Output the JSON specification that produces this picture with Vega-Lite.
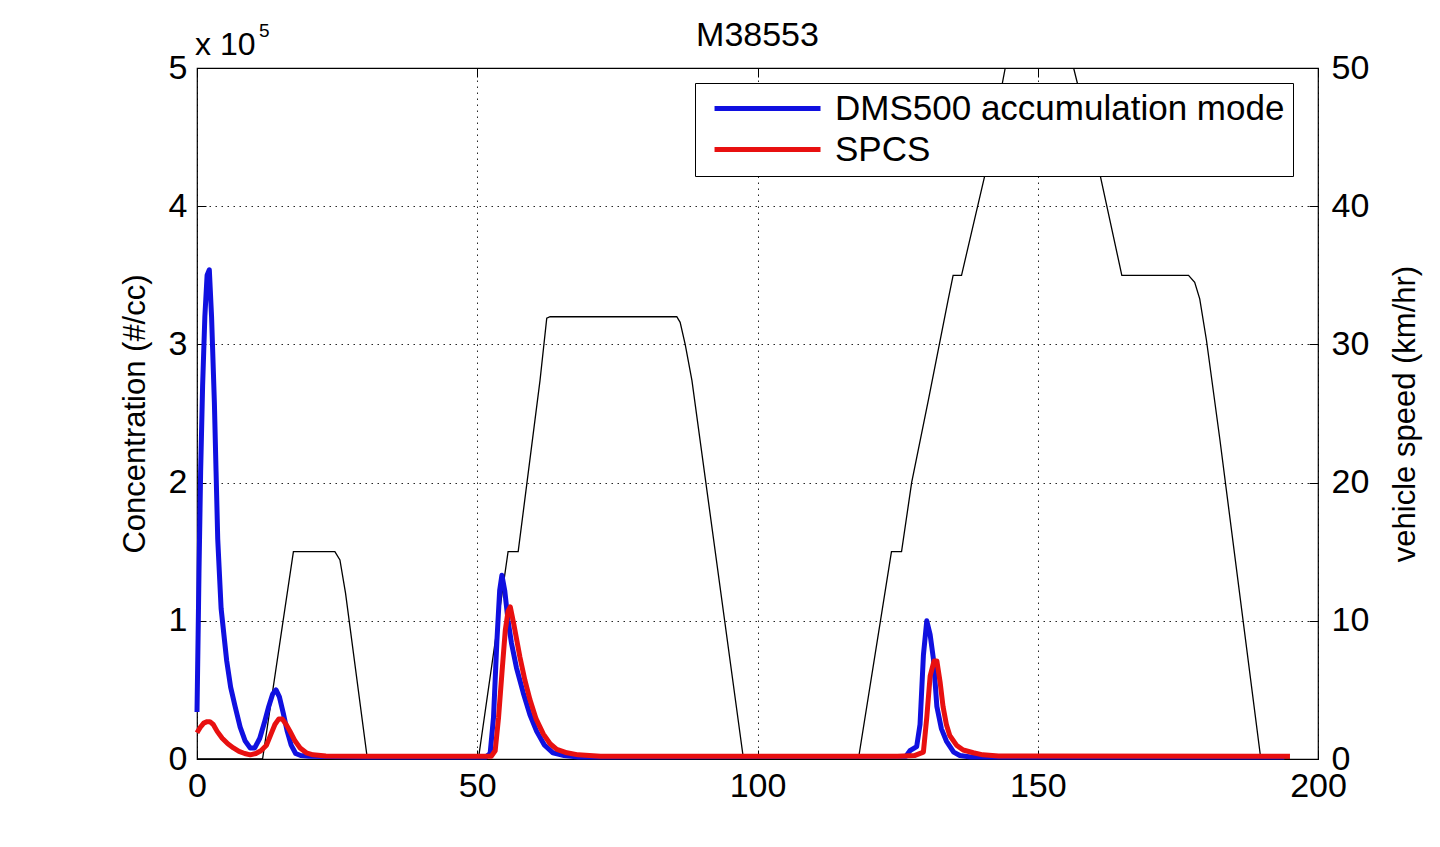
{
  "$schema": "https://vega.github.io/schema/vega-lite/v6.json",
  "autosize": {"type": "none"},
  "width": 1121,
  "height": 691,
  "padding": {"left": 197, "top": 68, "right": 122, "bottom": 88},
  "background": "#ffffff",
  "title": {"text": "M38553", "fontSize": 34, "fontWeight": "normal", "font": "Liberation Sans", "color": "#000", "anchor": "middle", "baseline": "alphabetic", "offset": -58},
  "datasets": {
    "conc": [
      {"t": 0.0, "c": 0.34, "s": "DMS500"},
      {"t": 0.2, "c": 0.9, "s": "DMS500"},
      {"t": 0.35, "c": 1.34, "s": "DMS500"},
      {"t": 0.65, "c": 2.08, "s": "DMS500"},
      {"t": 1.0, "c": 2.7, "s": "DMS500"},
      {"t": 1.4, "c": 3.2, "s": "DMS500"},
      {"t": 1.8, "c": 3.5, "s": "DMS500"},
      {"t": 2.2, "c": 3.54, "s": "DMS500"},
      {"t": 2.6, "c": 3.2, "s": "DMS500"},
      {"t": 3.1, "c": 2.58, "s": "DMS500"},
      {"t": 3.4, "c": 2.08, "s": "DMS500"},
      {"t": 3.7, "c": 1.59, "s": "DMS500"},
      {"t": 4.3, "c": 1.09, "s": "DMS500"},
      {"t": 5.3, "c": 0.71, "s": "DMS500"},
      {"t": 6.0, "c": 0.52, "s": "DMS500"},
      {"t": 6.8, "c": 0.38, "s": "DMS500"},
      {"t": 7.7, "c": 0.23, "s": "DMS500"},
      {"t": 8.6, "c": 0.13, "s": "DMS500"},
      {"t": 9.5, "c": 0.08, "s": "DMS500"},
      {"t": 10.3, "c": 0.08, "s": "DMS500"},
      {"t": 11.2, "c": 0.15, "s": "DMS500"},
      {"t": 12.0, "c": 0.26, "s": "DMS500"},
      {"t": 12.8, "c": 0.38, "s": "DMS500"},
      {"t": 13.5, "c": 0.47, "s": "DMS500"},
      {"t": 14.1, "c": 0.5, "s": "DMS500"},
      {"t": 14.7, "c": 0.45, "s": "DMS500"},
      {"t": 15.4, "c": 0.33, "s": "DMS500"},
      {"t": 16.1, "c": 0.2, "s": "DMS500"},
      {"t": 16.8, "c": 0.1, "s": "DMS500"},
      {"t": 17.6, "c": 0.04, "s": "DMS500"},
      {"t": 18.5, "c": 0.025, "s": "DMS500"},
      {"t": 20.0, "c": 0.02, "s": "DMS500"},
      {"t": 30.0, "c": 0.015, "s": "DMS500"},
      {"t": 51.5, "c": 0.015, "s": "DMS500"},
      {"t": 52.3, "c": 0.04, "s": "DMS500"},
      {"t": 52.9, "c": 0.3, "s": "DMS500"},
      {"t": 53.5, "c": 0.85, "s": "DMS500"},
      {"t": 54.0, "c": 1.22, "s": "DMS500"},
      {"t": 54.4, "c": 1.33, "s": "DMS500"},
      {"t": 54.9, "c": 1.22, "s": "DMS500"},
      {"t": 55.5, "c": 1.0, "s": "DMS500"},
      {"t": 56.1, "c": 0.84, "s": "DMS500"},
      {"t": 57.0, "c": 0.66, "s": "DMS500"},
      {"t": 58.2, "c": 0.48, "s": "DMS500"},
      {"t": 59.4, "c": 0.32, "s": "DMS500"},
      {"t": 60.6, "c": 0.2, "s": "DMS500"},
      {"t": 62.0, "c": 0.1, "s": "DMS500"},
      {"t": 63.5, "c": 0.045, "s": "DMS500"},
      {"t": 65.5, "c": 0.025, "s": "DMS500"},
      {"t": 68.0, "c": 0.015, "s": "DMS500"},
      {"t": 126.5, "c": 0.02, "s": "DMS500"},
      {"t": 127.2, "c": 0.06, "s": "DMS500"},
      {"t": 128.4, "c": 0.09, "s": "DMS500"},
      {"t": 129.0, "c": 0.25, "s": "DMS500"},
      {"t": 129.6, "c": 0.75, "s": "DMS500"},
      {"t": 130.2, "c": 1.0, "s": "DMS500"},
      {"t": 130.8, "c": 0.9, "s": "DMS500"},
      {"t": 131.4, "c": 0.72, "s": "DMS500"},
      {"t": 132.0, "c": 0.38, "s": "DMS500"},
      {"t": 132.8, "c": 0.22, "s": "DMS500"},
      {"t": 133.7, "c": 0.13, "s": "DMS500"},
      {"t": 135.0, "c": 0.05, "s": "DMS500"},
      {"t": 136.1, "c": 0.025, "s": "DMS500"},
      {"t": 138.0, "c": 0.015, "s": "DMS500"},
      {"t": 194.0, "c": 0.015, "s": "DMS500"},
      {"t": 0.0, "c": 0.19, "s": "SPCS"},
      {"t": 0.6, "c": 0.23, "s": "SPCS"},
      {"t": 1.2, "c": 0.26, "s": "SPCS"},
      {"t": 1.8, "c": 0.27, "s": "SPCS"},
      {"t": 2.3, "c": 0.27, "s": "SPCS"},
      {"t": 2.9, "c": 0.25, "s": "SPCS"},
      {"t": 3.6, "c": 0.2, "s": "SPCS"},
      {"t": 4.5, "c": 0.15, "s": "SPCS"},
      {"t": 5.5, "c": 0.11, "s": "SPCS"},
      {"t": 6.5, "c": 0.08, "s": "SPCS"},
      {"t": 7.5, "c": 0.055, "s": "SPCS"},
      {"t": 8.5, "c": 0.04, "s": "SPCS"},
      {"t": 9.5, "c": 0.03, "s": "SPCS"},
      {"t": 10.5, "c": 0.04, "s": "SPCS"},
      {"t": 11.4, "c": 0.06, "s": "SPCS"},
      {"t": 12.4, "c": 0.1, "s": "SPCS"},
      {"t": 13.2, "c": 0.18, "s": "SPCS"},
      {"t": 13.9, "c": 0.25, "s": "SPCS"},
      {"t": 14.6, "c": 0.29, "s": "SPCS"},
      {"t": 15.2, "c": 0.29, "s": "SPCS"},
      {"t": 15.9, "c": 0.25, "s": "SPCS"},
      {"t": 16.6, "c": 0.2, "s": "SPCS"},
      {"t": 17.5, "c": 0.13, "s": "SPCS"},
      {"t": 18.4, "c": 0.08, "s": "SPCS"},
      {"t": 19.5, "c": 0.045, "s": "SPCS"},
      {"t": 20.7, "c": 0.03, "s": "SPCS"},
      {"t": 23.0, "c": 0.022, "s": "SPCS"},
      {"t": 30.0, "c": 0.02, "s": "SPCS"},
      {"t": 52.5, "c": 0.02, "s": "SPCS"},
      {"t": 53.2, "c": 0.06, "s": "SPCS"},
      {"t": 53.8, "c": 0.3, "s": "SPCS"},
      {"t": 54.4, "c": 0.62, "s": "SPCS"},
      {"t": 55.0, "c": 0.93, "s": "SPCS"},
      {"t": 55.5, "c": 1.07, "s": "SPCS"},
      {"t": 55.9, "c": 1.1, "s": "SPCS"},
      {"t": 56.5, "c": 0.98, "s": "SPCS"},
      {"t": 57.6, "c": 0.74, "s": "SPCS"},
      {"t": 58.5, "c": 0.57, "s": "SPCS"},
      {"t": 59.4, "c": 0.43, "s": "SPCS"},
      {"t": 60.5, "c": 0.29, "s": "SPCS"},
      {"t": 61.8, "c": 0.18, "s": "SPCS"},
      {"t": 63.0, "c": 0.11, "s": "SPCS"},
      {"t": 64.2, "c": 0.07, "s": "SPCS"},
      {"t": 66.0, "c": 0.045, "s": "SPCS"},
      {"t": 68.0, "c": 0.03, "s": "SPCS"},
      {"t": 72.0, "c": 0.02, "s": "SPCS"},
      {"t": 125.0, "c": 0.02, "s": "SPCS"},
      {"t": 128.0, "c": 0.025, "s": "SPCS"},
      {"t": 129.6, "c": 0.05, "s": "SPCS"},
      {"t": 130.2, "c": 0.3, "s": "SPCS"},
      {"t": 130.8, "c": 0.6, "s": "SPCS"},
      {"t": 131.5, "c": 0.71, "s": "SPCS"},
      {"t": 132.0, "c": 0.71, "s": "SPCS"},
      {"t": 132.6, "c": 0.55, "s": "SPCS"},
      {"t": 133.1, "c": 0.38, "s": "SPCS"},
      {"t": 133.7, "c": 0.25, "s": "SPCS"},
      {"t": 134.3, "c": 0.17, "s": "SPCS"},
      {"t": 135.5, "c": 0.1, "s": "SPCS"},
      {"t": 136.7, "c": 0.065, "s": "SPCS"},
      {"t": 138.5, "c": 0.045, "s": "SPCS"},
      {"t": 140.2, "c": 0.03, "s": "SPCS"},
      {"t": 143.0, "c": 0.022, "s": "SPCS"},
      {"t": 195.0, "c": 0.02, "s": "SPCS"}
    ],
    "speed": [
      {"t": 0, "v": 0},
      {"t": 11.7, "v": 0},
      {"t": 15.4, "v": 10.1},
      {"t": 17.2, "v": 15},
      {"t": 24.6, "v": 15},
      {"t": 25.5, "v": 14.4},
      {"t": 26.5, "v": 12},
      {"t": 30.4, "v": 0},
      {"t": 50.2, "v": 0},
      {"t": 55.5, "v": 15},
      {"t": 57.3, "v": 15},
      {"t": 61.2, "v": 27.4},
      {"t": 62.4, "v": 31.9},
      {"t": 63.0, "v": 32},
      {"t": 85.6, "v": 32},
      {"t": 86.2, "v": 31.6},
      {"t": 87.1, "v": 30},
      {"t": 88.3, "v": 27.4},
      {"t": 97.5, "v": 0},
      {"t": 118.0, "v": 0},
      {"t": 121.9, "v": 9.9},
      {"t": 123.9, "v": 15},
      {"t": 125.7, "v": 15},
      {"t": 127.5, "v": 20},
      {"t": 130.5, "v": 26},
      {"t": 134.0, "v": 33.2},
      {"t": 134.9, "v": 35},
      {"t": 136.4, "v": 35},
      {"t": 140.6, "v": 42.3},
      {"t": 144.2, "v": 50},
      {"t": 147.0, "v": 53},
      {"t": 150.0, "v": 54},
      {"t": 153.0, "v": 53},
      {"t": 156.4, "v": 50},
      {"t": 161.1, "v": 42.3},
      {"t": 165.0, "v": 35},
      {"t": 176.9, "v": 35},
      {"t": 178.0, "v": 34.5},
      {"t": 178.9, "v": 33.3},
      {"t": 180.1, "v": 30.3},
      {"t": 182.5, "v": 23.1},
      {"t": 189.8, "v": 0},
      {"t": 195.0, "v": 0}
    ]
  },
  "config": {
    "font": "Liberation Sans",
    "view": {"stroke": "#000000", "strokeWidth": 1.2},
    "axis": {
      "domain": false,
      "labelColor": "#000",
      "labelFont": "Liberation Sans",
      "labelFontSize": 34,
      "labelFlush": false,
      "titleFont": "Liberation Sans",
      "titleFontWeight": "normal",
      "titleColor": "#000",
      "tickColor": "#000",
      "tickWidth": 1,
      "gridColor": "#000",
      "gridOpacity": 0.85,
      "gridWidth": 1,
      "gridDash": [1.5, 4.5]
    }
  },
  "resolve": {"scale": {"y": "independent"}, "axis": {"x": "independent"}},
  "layer": [
    {
      "data": {"name": "speed"},
      "mark": {"type": "line", "color": "#000", "strokeWidth": 1.3, "clip": true},
      "encoding": {
        "x": {"field": "t", "type": "quantitative", "scale": {"domain": [0, 200], "nice": false},
              "axis": {"orient": "top", "values": [0, 50, 100, 150, 200], "labels": false, "grid": false, "title": null, "tickSize": -9}},
        "y": {"field": "v", "type": "quantitative", "scale": {"domain": [0, 50], "nice": false},
              "axis": {"orient": "right", "values": [0, 10, 20, 30, 40, 50], "format": "d", "labelFlush": false, "grid": false, "tickSize": -9, "labelPadding": 22,
                       "title": "vehicle speed (km/hr)", "titleFontSize": 31, "titlePadding": 53, "titleAngle": 270}}
      }
    },
    {
      "layer": [
        {
          "data": {"name": "conc"},
          "mark": {"type": "line", "strokeWidth": 5, "strokeJoin": "round"},
          "encoding": {
            "x": {"field": "t", "type": "quantitative", "scale": {"domain": [0, 200], "nice": false},
                  "axis": {"orient": "bottom", "values": [0, 50, 100, 150, 200], "format": "d", "labelFlush": false, "grid": true, "title": null, "tickSize": -9, "labelPadding": 19}},
            "y": {"field": "c", "type": "quantitative", "scale": {"domain": [0, 5], "nice": false},
                  "axis": {"orient": "left", "values": [0, 1, 2, 3, 4, 5], "format": "d", "labelFlush": false, "grid": true, "tickSize": -9, "labelPadding": 19,
                           "title": "Concentration (#/cc)", "titleFontSize": 31, "titlePadding": 17}},
            "color": {"field": "s", "type": "nominal",
                      "scale": {"domain": ["DMS500", "SPCS"], "range": ["#1010e0", "#e81010"]},
                      "legend": {"orient": "none", "legendX": 498, "legendY": 15, "title": null,
                                 "strokeColor": "#000", "fillColor": "#fff", "padding": 8, "rowPadding": 5,
                                 "symbolType": "M-0.45,0H7.55", "symbolSize": 702, "symbolStrokeWidth": 5,
                                 "labelFontSize": 35, "labelOffset": 97, "labelLimit": 700, "labelColor": "#000", "labelFont": "Liberation Sans",
                                 "labelExpr": "datum.label == 'DMS500' ? 'DMS500 accumulation mode' : datum.label"}}
          }
        },
        {
          "data": {"values": [{"lbl": "x 10"}]},
          "mark": {"type": "text", "align": "left", "baseline": "alphabetic", "fontSize": 32, "font": "Liberation Sans", "color": "#000", "dx": -2, "dy": -13},
          "encoding": {
            "x": {"datum": 0, "type": "quantitative"},
            "y": {"datum": 5, "type": "quantitative"},
            "text": {"field": "lbl"}
          }
        },
        {
          "data": {"values": [{"lbl": "5"}]},
          "mark": {"type": "text", "align": "left", "baseline": "alphabetic", "fontSize": 19, "font": "Liberation Sans", "color": "#000", "dx": 62, "dy": -31},
          "encoding": {
            "x": {"datum": 0, "type": "quantitative"},
            "y": {"datum": 5, "type": "quantitative"},
            "text": {"field": "lbl"}
          }
        }
      ]
    }
  ]
}
